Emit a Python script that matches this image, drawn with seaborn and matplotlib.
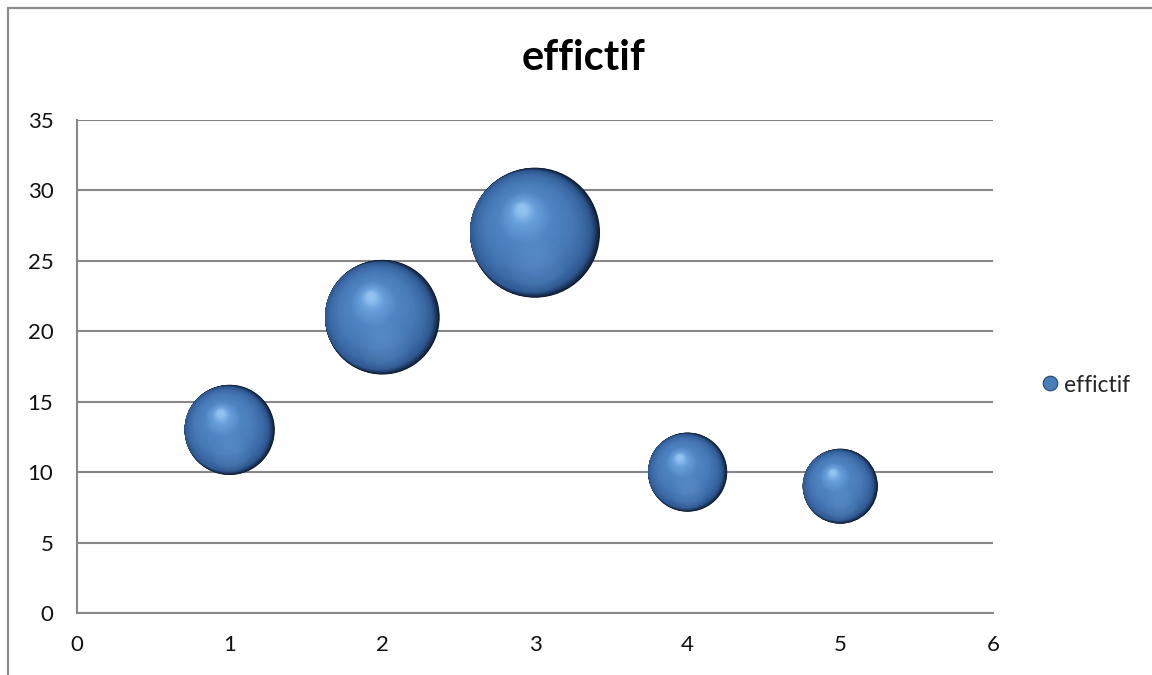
import numpy as np
import pandas as pd
import matplotlib
matplotlib.use("Agg")
import matplotlib.pyplot as plt
import matplotlib.transforms as mtransforms
from matplotlib.colors import LinearSegmentedColormap
from matplotlib.lines import Line2D
import seaborn as sns

# Data
classes = [1, 2, 3, 4, 5]
effectif = [13, 21, 27, 10, 9]
series_name = "effictif"
title = "effictif"
x_ticks = [0, 1, 2, 3, 4, 5, 6]
y_ticks = [0, 5, 10, 15, 20, 25, 30, 35]

df = pd.DataFrame({"x": classes, "y": effectif, "size": effectif})

sns.set_theme(style="white")
plt.rcParams["font.family"] = ["Lato", "DejaVu Sans"]

DPI = 100
fig = plt.figure(figsize=(11.52, 6.75), dpi=DPI)
ax = fig.add_axes([77 / 1152, 62 / 675, (993 - 77) / 1152, (613 - 120) / 675])

# bubble area proportional to the value (points^2 per unit)
AREA_PER_UNIT = 324.5
smin, smax = min(effectif), max(effectif)
sns.scatterplot(data=df, x="x", y="y", size="size",
                sizes=(smin * AREA_PER_UNIT, smax * AREA_PER_UNIT),
                color="#0e1b2e", edgecolor="none", linewidth=0,
                legend=False, ax=ax, zorder=3)

# shading colours: dark rim on the lower right, then body, then highlight
rim = LinearSegmentedColormap.from_list(
    "rim", ["#0e1b2e", "#1a3153", "#27487a", "#305a92"])
body = LinearSegmentedColormap.from_list(
    "body",
    [(0.00, "#305a92"), (0.10, "#3b69a5"), (0.30, "#4679b6"),
     (0.60, "#4f84c3"), (0.85, "#68a0db"), (1.00, "#92c2ef")])


def shifted(dx_pt, dy_pt):
    return ax.transData + mtransforms.ScaledTranslation(
        dx_pt / 72, dy_pt / 72, fig.dpi_scale_trans)


n_rim, n_body = 16, 50
for xi, yi, vi in zip(classes, effectif, effectif):
    s_full = vi * AREA_PER_UNIT
    r = np.sqrt(s_full) / 2.0
    # rim: discs shrinking slightly and sliding left/up
    f_end, ox_end, oy_end = 0.93, -0.065, 0.02
    for k in range(1, n_rim + 1):
        t = k / n_rim
        f = 1.0 - t * (1.0 - f_end)
        ax.scatter([xi], [yi], s=s_full * f * f, color=rim(t),
                   edgecolors="none", linewidths=0,
                   transform=shifted(ox_end * t * r, oy_end * t * r),
                   zorder=3.5 + k * 0.001)
    # body: discs shrinking toward the upper-left highlight
    hx, hy = -0.20, 0.36
    for k in range(n_body):
        t = k / (n_body - 1)
        f = f_end - t * (f_end - 0.07)
        ox = ox_end + (hx - ox_end) * t
        oy = oy_end + (hy - oy_end) * t
        ax.scatter([xi], [yi], s=s_full * f * f, color=body(t),
                   edgecolors="none", linewidths=0,
                   transform=shifted(ox * r, oy * r), zorder=4 + k * 0.001)
    # soft reflected light near the bottom
    for j in range(10):
        fr = 0.45 - j * 0.035
        ax.scatter([xi], [yi], s=s_full * fr * fr, color="#7aaae0", alpha=0.035,
                   edgecolors="none", linewidths=0,
                   transform=shifted(0.03 * r, -0.50 * r), zorder=4.2 + j * 0.0001)

ax.set_xlim(0, 6)
ax.set_ylim(0, 35)
ax.set_xticks(x_ticks)
ax.set_yticks(y_ticks)
ax.set_xlabel("")
ax.set_ylabel("")
grid_c = "#878787"
ax.yaxis.grid(True, color=grid_c, linewidth=1.5, zorder=0)
ax.xaxis.grid(False)
for side in ["top", "right"]:
    ax.spines[side].set_visible(False)
for side in ["left", "bottom"]:
    ax.spines[side].set_visible(True)
    ax.spines[side].set_color(grid_c)
    ax.spines[side].set_linewidth(1.5)
ax.tick_params(axis="both", which="major", direction="out", length=6,
               width=1.1, color=grid_c, labelsize=16, labelcolor="#111111")
ax.tick_params(axis="y", pad=11)
ax.tick_params(axis="x", pad=10)
ax.set_axisbelow(True)

fig.text(584 / 1152, 1 - 58 / 675, title, ha="center", va="center",
         fontsize=30, fontweight="bold", color="#000000")

# legend
handle = Line2D([], [], linestyle="none", marker="o", markersize=10.5,
                markerfacecolor="#4a7ebb", markeredgecolor="#24426c",
                markeredgewidth=0.8)
fig.legend([handle], [series_name], loc="center left",
           bbox_to_anchor=(1033 / 1152, 1 - 385 / 675), frameon=False,
           fontsize=16.5, handlelength=0.7, handletextpad=0.25,
           borderaxespad=0)

# chart border
border_c = "#8c8c8c"
fig.add_artist(Line2D([8 / 1152, 1.0], [1 - 8 / 675, 1 - 8 / 675],
                      color=border_c, linewidth=1.6, transform=fig.transFigure))
fig.add_artist(Line2D([8 / 1152, 8 / 1152], [0.0, 1 - 8 / 675],
                      color=border_c, linewidth=1.6, transform=fig.transFigure))

fig.savefig("out.png", dpi=DPI, facecolor="white")
